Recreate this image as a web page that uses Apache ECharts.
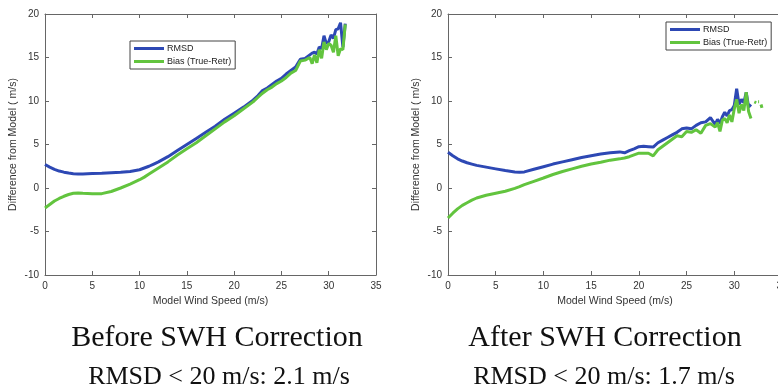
<!DOCTYPE html>
<html><head><meta charset="utf-8">
<script src="https://cdn.jsdelivr.net/npm/echarts@6/dist/echarts.min.js"></script>
<style>html,body{margin:0;padding:0;background:#fff;overflow:hidden}#c{width:792px;height:390px}</style>
</head><body><div id="c"></div>
<script>
// ---- data ----
const xTicks = [0, 5, 10, 15, 20, 25, 30, 35];
const yTicks = [-10, -5, 0, 5, 10, 15, 20];
const panelTitles = ['Before SWH Correction', 'After SWH Correction'];
const panelStats = ['RMSD < 20 m/s: 2.1 m/s', 'RMSD < 20 m/s: 1.7 m/s'];
const seriesNames = ['RMSD', 'Bias (True-Retr)'];

const beforeX = [0,0.5,1,1.5,2,2.5,3,3.5,4,5,6,7,8,9,10,10.5,11,11.5,12,13,14,15,16,17,18,19,20,21,22,22.5,23,23.5,24,24.5,25,25.5,26,26.5,27,27.5,28,28.25,28.5,28.75,29,29.25,29.5,29.75,30,30.25,30.5,30.75,31,31.25,31.5,31.75];
const beforeRmsd = [2.7,2.4,2.15,1.95,1.82,1.72,1.65,1.62,1.62,1.66,1.7,1.75,1.8,1.9,2.1,2.3,2.5,2.75,3.0,3.6,4.3,5.0,5.7,6.4,7.1,7.9,8.6,9.3,10.1,10.6,11.2,11.5,11.9,12.3,12.6,13.1,13.5,13.9,14.8,14.9,15.3,15.5,15.6,15.4,16.2,16.0,17.5,16.6,16.8,17.6,17.2,18.2,18.3,19.0,16.2,18.9];
const beforeBias = [-2.3,-1.9,-1.5,-1.2,-0.95,-0.75,-0.6,-0.57,-0.6,-0.65,-0.65,-0.4,0.0,0.45,0.95,1.25,1.6,1.95,2.3,3.0,3.8,4.5,5.2,6.0,6.8,7.6,8.3,9.1,9.9,10.4,10.9,11.3,11.6,12.0,12.3,12.7,13.2,13.5,14.6,14.7,15.0,14.3,15.3,14.4,15.9,14.9,16.8,15.9,16.6,16.4,15.6,17.5,15.2,16.0,15.9,18.8];

const afterX = [0,0.5,1,1.5,2,2.5,3,4,5,6,7,7.5,8,9,10,11,12,13,14,15,16,17,18,18.5,19,19.5,20,20.5,21,21.5,22,22.5,23,23.5,24,24.5,25,25.5,26,26.5,27,27.5,28,28.25,28.5,28.75,29,29.25,29.5,29.75,30,30.25,30.5,30.75,31,31.25,31.5,31.75];
const afterRmsd = [4.1,3.7,3.35,3.1,2.9,2.75,2.6,2.4,2.2,2.0,1.85,1.8,1.85,2.15,2.45,2.75,3.0,3.25,3.5,3.7,3.9,4.05,4.15,4.05,4.3,4.5,4.75,4.8,4.75,4.7,5.2,5.5,5.8,6.1,6.4,6.8,6.9,6.8,7.2,7.5,7.6,8.1,7.3,7.9,7.4,8.2,8.7,8.3,8.9,9.0,9.5,11.4,9.6,10.2,9.8,11.0,9.3,9.6];
const afterBiasX = [0,0.5,1,1.5,2,2.5,3,4,5,6,7,7.5,8,9,10,11,12,13,14,15,16,17,18,18.5,19,19.5,20,20.5,21,21.5,22,22.5,23,23.5,24,24.5,25,25.5,26,26.5,27,27.5,28,28.25,28.5,28.75,29,29.25,29.5,29.75,30,30.25,30.5,30.75,31,31.25,31.5,31.75,32,32.1,32.3,32.4,32.5,32.6,32.7,32.8,32.9];
const afterBias = [-3.45,-2.9,-2.4,-2.0,-1.7,-1.4,-1.15,-0.84,-0.6,-0.38,-0.05,0.15,0.38,0.77,1.15,1.55,1.9,2.2,2.5,2.75,2.95,3.2,3.35,3.45,3.6,3.8,4.0,4.0,4.0,3.7,4.4,4.8,5.2,5.6,6.0,5.9,6.5,6.4,6.7,6.3,7.2,7.4,7.0,7.5,6.5,7.8,8.0,7.5,8.4,7.6,9.1,10.2,8.6,9.6,8.9,11.0,8.8,8.0,null,9.9,9.8,null,9.9,9.9,null,9.6,9.2];

// ---- chart ----
const BLUE = '#2d48b4', GREEN = '#62c43e', AXIS = '#666';
function pairs(xs, ys){ return xs.map((x,i)=>[x, ys[i]===null ? '-' : ys[i]]); }

const grids = [
  {left: 45, top: 14, width: 331, height: 261},
  {left: 448, top: 14, width: 334, height: 261}
];
const xAxes = [], yAxes = [];
grids.forEach((g, gi) => {
  const common = {gridIndex: gi, type: 'value', min: 0, max: 35, interval: 5,
    axisLine: {show: true, onZero: false, lineStyle: {color: AXIS, width: 1}},
    axisTick: {show: true, inside: true, length: 4, lineStyle: {color: AXIS}},
    splitLine: {show: false}};
  xAxes.push(Object.assign({}, common, {position: 'bottom',
    axisLabel: {color: '#333', fontSize: 10, fontFamily: 'Liberation Sans, Arial', margin: 6},
    name: 'Model Wind Speed (m/s)', nameLocation: 'middle', nameGap: 19,
    nameTextStyle: {color: '#333', fontSize: 10.5, fontFamily: 'Liberation Sans, Arial'}}));
  xAxes.push(Object.assign({}, common, {position: 'top', axisLabel: {show: false}}));
  const ycommon = {gridIndex: gi, type: 'value', min: -10, max: 20, interval: 5,
    axisLine: {show: true, onZero: false, lineStyle: {color: AXIS, width: 1}},
    axisTick: {show: true, inside: true, length: 4, lineStyle: {color: AXIS}},
    splitLine: {show: false}};
  yAxes.push(Object.assign({}, ycommon, {position: 'left',
    axisLabel: {color: '#333', fontSize: 10, fontFamily: 'Liberation Sans, Arial', margin: 6},
    name: 'Difference from Model ( m/s)', nameLocation: 'middle', nameGap: 26, nameRotate: 90,
    nameTextStyle: {color: '#333', fontSize: 10.5, fontFamily: 'Liberation Sans, Arial'}}));
  yAxes.push(Object.assign({}, ycommon, {position: 'right', axisLabel: {show: false}}));
});

const lineBase = {type: 'line', showSymbol: false, symbol: 'none', animation: false, connectNulls: false};
const series = [
  Object.assign({}, lineBase, {name: seriesNames[0], xAxisIndex: 0, yAxisIndex: 0, data: pairs(beforeX, beforeRmsd), lineStyle: {color: BLUE, width: 3}, itemStyle: {color: BLUE}}),
  Object.assign({}, lineBase, {name: seriesNames[1], xAxisIndex: 0, yAxisIndex: 0, data: pairs(beforeX, beforeBias), lineStyle: {color: GREEN, width: 3}, itemStyle: {color: GREEN}}),
  Object.assign({}, lineBase, {name: seriesNames[0], xAxisIndex: 2, yAxisIndex: 2, data: pairs(afterX, afterRmsd), lineStyle: {color: BLUE, width: 3}, itemStyle: {color: BLUE}}),
  Object.assign({}, lineBase, {name: seriesNames[1], xAxisIndex: 2, yAxisIndex: 2, data: pairs(afterBiasX, afterBias), lineStyle: {color: GREEN, width: 3}, itemStyle: {color: GREEN}})
];

const legendBase = {orient: 'vertical', icon: 'rect', itemWidth: 30, itemHeight: 3, itemGap: 4,
  padding: [3, 4, 3, 4], borderColor: '#444', borderWidth: 1, backgroundColor: '#fff',
  textStyle: {color: '#222', fontSize: 9, fontFamily: 'Liberation Sans, Arial', padding: [0,0,0,-2]},
  data: seriesNames, selectedMode: false};
const legends = [
  Object.assign({}, legendBase, {left: 130, top: 41}),
  Object.assign({}, legendBase, {left: 666, top: 22})
];

const titleStyle = {color: '#111', fontFamily: 'Liberation Serif, Times New Roman, serif', fontWeight: 'normal'};
const titles = [
  {text: panelTitles[0], left: 212, top: 318, textAlign: 'center', textStyle: Object.assign({fontSize: 30}, titleStyle)},
  {text: panelTitles[1], left: 600, top: 318, textAlign: 'center', textStyle: Object.assign({fontSize: 30}, titleStyle)},
  {text: panelStats[0], left: 214, top: 359, textAlign: 'center', textStyle: Object.assign({fontSize: 26}, titleStyle)},
  {text: panelStats[1], left: 599, top: 359, textAlign: 'center', textStyle: Object.assign({fontSize: 26}, titleStyle)}
];

const chart = echarts.init(document.getElementById('c'), null, {renderer: 'canvas'});
chart.setOption({animation: false, backgroundColor: '#fff', title: titles, legend: legends,
  grid: grids, xAxis: xAxes, yAxis: yAxes, series: series});
</script></body></html>
